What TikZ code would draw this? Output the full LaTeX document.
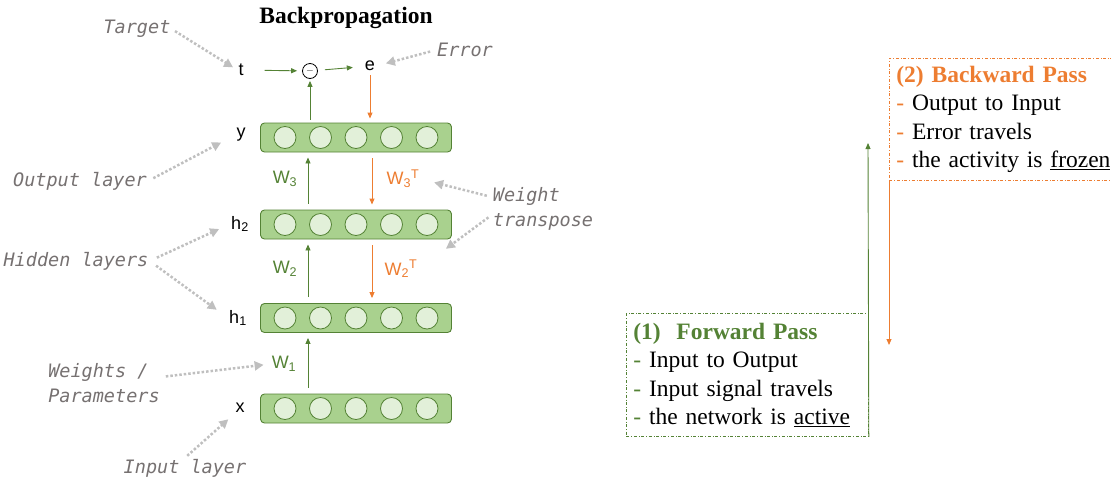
\documentclass[tikz,border=0pt]{standalone}
\usepackage{fontspec}
\setmainfont{Liberation Serif}
\newfontfamily\lblfont{Liberation Sans}
\newfontfamily\notefont{DejaVu Sans Mono}
\usetikzlibrary{arrows.meta}
\definecolor{fwdgreen}{HTML}{548235}
\definecolor{barfill}{HTML}{A9D18E}
\definecolor{unitfill}{HTML}{E2F0D9}
\definecolor{bwdorange}{HTML}{ED7D31}
\definecolor{notegray}{HTML}{767171}
\definecolor{hintgray}{HTML}{BFBFBF}

\begin{document}
\begin{tikzpicture}[x=1pt,y=-1pt,
  layer/.style={draw=fwdgreen,fill=barfill,rounded corners=4pt,line width=0.9pt,
                minimum width=191pt,minimum height=29pt},
  unit/.style={circle,draw=fwdgreen,fill=unitfill,line width=0.8pt,
               minimum size=22pt,inner sep=0pt},
  lbl/.style={font=\lblfont\fontsize{18}{20}\selectfont,inner sep=1pt},
  note/.style={font=\notefont\itshape\fontsize{18.5}{25}\selectfont,text=notegray,
               align=left,inner sep=1pt},
  fwd/.style={draw=fwdgreen,line width=0.9pt,-{Triangle[length=6pt,width=5pt]}},
  bwd/.style={draw=bwdorange,line width=0.9pt,-{Triangle[length=6pt,width=5pt]}},
  gap/.style={shorten <=6pt,shorten >=5pt},
  hint/.style={draw=hintgray,line width=2.5pt,dash pattern=on 2.5pt off 2pt,
               -{Triangle[length=9pt,width=9pt]}},
  passbox/.style={dash dot,line width=0.8pt,anchor=north west,align=left,
                  inner xsep=7pt,font=\fontsize{23.5}{28.6}\selectfont}]
  \useasboundingbox (0,0) rectangle (1111,483);

  \node[font=\bfseries\fontsize{23.5}{26}\selectfont] (title) at (346,18) {Backpropagation};

  \node[layer] (lx)  at (356,408.5) {};
  \node[layer] (lh1) at (356,318) {};
  \node[layer] (lh2) at (356,224.5) {};
  \node[layer] (ly)  at (356,137.5) {};
  \foreach \l in {lx,lh1,lh2,ly}
    \foreach \dx in {-71,-35.5,0,35.5,71}
      \node[unit] at ([xshift=\dx pt]\l.center) {};

  \node[lbl] (x)  at (240,408) {x};
  \node[lbl] (h1) at (238,318) {h\textsubscript{1}};
  \node[lbl] (h2) at (240,224) {h\textsubscript{2}};
  \node[lbl] (y)  at (241,135) {y};
  \node[lbl] (t)  at (241,70) {t};
  \node[circle,draw,line width=0.8pt,minimum size=15pt,inner sep=0pt] (sub) at (310,71) {$-$};
  \node[lbl] (e)  at (370,66) {e};

  \draw[fwd,shorten <=20pt,shorten >=5pt] (t) -- (sub);
  \draw[fwd,shorten <=7pt,shorten >=11pt] (sub) -- (e);
  \draw[fwd,shorten <=3pt,shorten >=2pt] (ly.north -| sub) -- (sub);
  \draw[bwd,shorten <=3pt,shorten >=4pt] (e) -- (e |- ly.north);

  \draw[fwd,gap] ([xshift=-48pt]lh2.north) -- ([xshift=-48pt]ly.south);
  \draw[fwd,gap] ([xshift=-48pt]lh1.north) -- ([xshift=-48pt]lh2.south);
  \draw[fwd,gap] ([xshift=-48pt]lx.north) -- ([xshift=-48pt]lh1.south);
  \draw[bwd,gap] ([xshift=16pt]ly.south) -- ([xshift=16pt]lh2.north);
  \draw[bwd,gap] ([xshift=16pt]lh2.south) -- ([xshift=16pt]lh1.north);

  \node[lbl,text=fwdgreen] (w3) at (285,179) {W\textsubscript{3}};
  \node[lbl,text=fwdgreen] (w2) at (285,269) {W\textsubscript{2}};
  \node[lbl,text=fwdgreen] (w1) at (284,364) {W\textsubscript{1}};
  \node[lbl,text=bwdorange] (w3t) at (403,179) {W\textsubscript{3}\textsuperscript{T}};
  \node[lbl,text=bwdorange] (w2t) at (401,269) {W\textsubscript{2}\textsuperscript{T}};

  \node[note] (ntarget) at (137,29) {Target};
  \node[note] (nerror) at (465,50) {Error};
  \node[note] (nout) at (80,181) {Output layer};
  \node[note] (nhid) at (76,261) {Hidden layers};
  \node[note] (nwt) at (543,209) {Weight\\transpose};
  \node[note] (nwp) at (104,383) {Weights /\\Parameters};
  \node[note] (nin) at (185,468) {Input layer};

  \draw[hint,shorten <=4pt,shorten >=5pt] (ntarget.east) -- (t.west);
  \draw[hint,shorten <=6pt,shorten >=10pt] (nerror.west) -- (e.east);
  \draw[hint,shorten <=6pt,shorten >=16pt] (nout.east) -- (y.west);
  \draw[hint,shorten <=8pt,shorten >=12pt] (nhid.east) -- (h2.west);
  \draw[hint,shorten <=8pt,shorten >=14pt] (nhid.east) -- (h1.west);
  \draw[hint,shorten <=5pt,shorten >=14pt] ([yshift=12pt]nwt.west) -- (w3t.east);
  \draw[hint,shorten <=4pt,shorten >=34pt] ([yshift=-6pt]nwt.west) -- (w2t.east);
  \draw[hint,shorten <=5pt,shorten >=7pt] ([yshift=6pt]nwp.east) -- (w1.west);
  \draw[hint,shorten <=3pt,shorten >=8pt] (nin.north) -- (x.south west);

  \node[passbox,draw=fwdgreen,text width=228pt,minimum height=123pt] (fwdbox) at (626,313)
    {{\color{fwdgreen}\bfseries (1)\ \ Forward Pass}\\
     {\color{fwdgreen}-} Input to Output\\
     {\color{fwdgreen}-} Input signal travels\\
     {\color{fwdgreen}-} the network is \underline{active}};
  \node[passbox,draw=bwdorange,text width=222pt,minimum height=122pt] (bwdbox) at (889,58)
    {{\color{bwdorange}\bfseries (2) Backward Pass}\\
     {\color{bwdorange}-} Output to Input\\
     {\color{bwdorange}-} Error travels\\
     {\color{bwdorange}-} the activity is \underline{frozen}};

  \coordinate (fwdtip) at (868,143);
  \coordinate (bwdtip) at (889,345);
  \draw[fwd] (fwdbox.south east) -- (fwdtip);
  \draw[bwd] (bwdbox.south west) -- (bwdtip);
\end{tikzpicture}
\end{document}
